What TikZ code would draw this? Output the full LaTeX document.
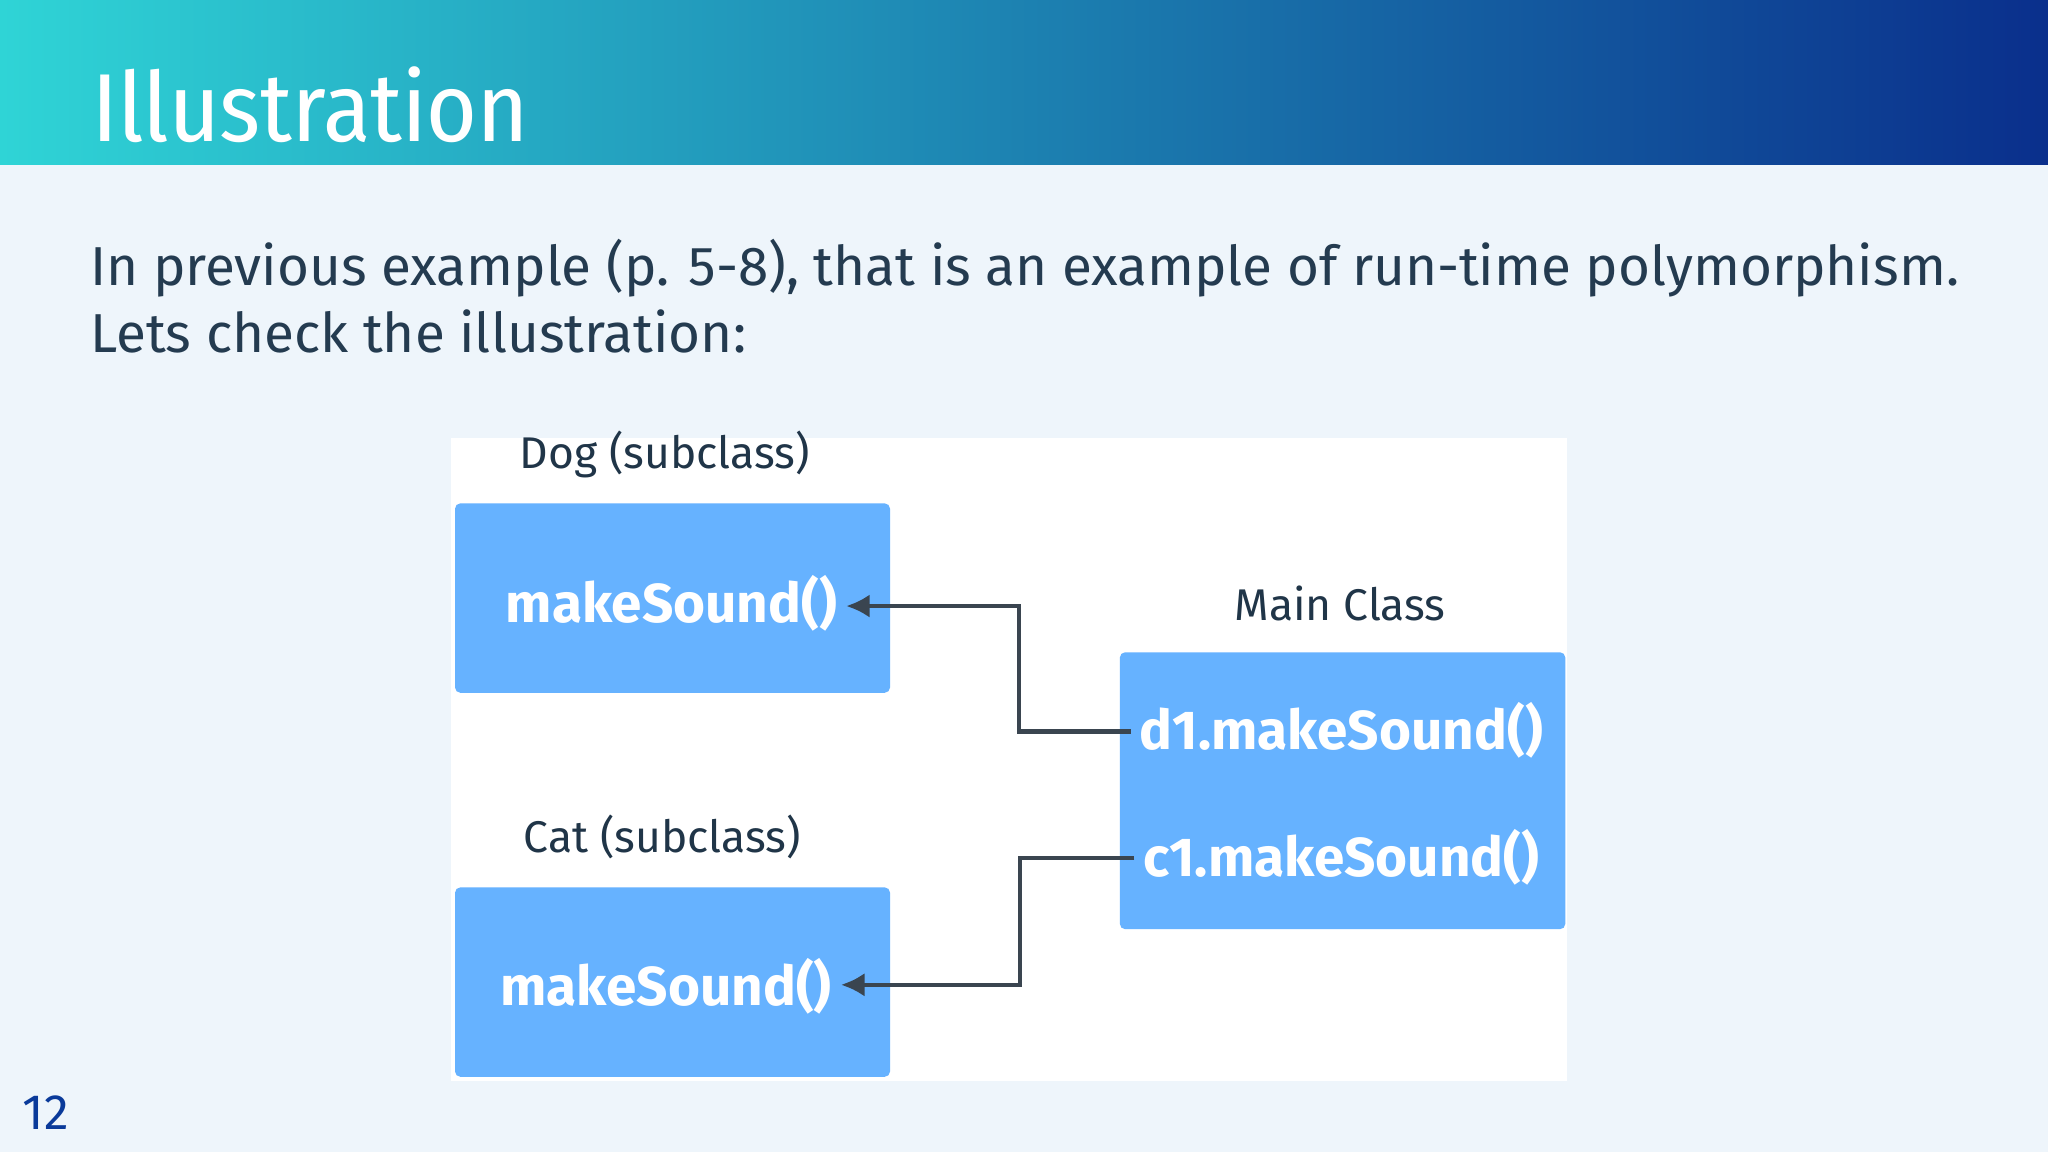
\documentclass[tikz,border=0pt]{standalone}
\usepackage{fontspec}
\setmainfont{Fira Sans}
\newfontfamily\condfont{Fira Sans Condensed}
\definecolor{bg}{HTML}{EEF5FB}
\definecolor{boxc}{HTML}{66B2FF}
\definecolor{txt}{HTML}{243B50}
\definecolor{numc}{HTML}{0A3A9A}
\definecolor{lnc}{HTML}{3A4550}
\usetikzlibrary{arrows.meta}
\tikzset{
  cls/.style={fill=boxc, rounded corners=2pt, draw=none},
  lbl/.style={font=\fontsize{17}{20}\selectfont, text=txt!90!black},
  mtxt/.style={font=\fontsize{21}{24}\selectfont\bfseries, text=white},
  conn/.style={draw=lnc, line width=1.6pt, -{Latex[length=9pt,width=9pt]}}
}
\begin{document}
\begin{tikzpicture}[x=0.5pt,y=-0.5pt]
\useasboundingbox (0,0) rectangle (1568,882);
\fill[bg] (0,0) rectangle (1568,882);
\shade[left color={rgb,255:red,47;green,212;blue,214}, right color={rgb,255:red,10;green,47;blue,140}] (0,0) rectangle (1568,126);
\node[anchor=west, text=white, font=\condfont\fontsize{37}{42}\selectfont] (title) at (64,80) {Illustration};
\node[anchor=north west, align=left, text=txt, font=\fontsize{21}{25.5}\selectfont] (body) at (62,176)
 {In previous example (p. 5-8), that is an example of run-time polymorphism.\\Lets check the illustration:};
\fill[white] (345,335) rectangle (1200,828);
\node[cls, minimum width=166.5pt, minimum height=72.5pt, anchor=north west] (dog) at (348,385) {};
\node[cls, minimum width=166.5pt, minimum height=72.5pt, anchor=north west] (cat) at (348,679) {};
\node[cls, minimum width=170.5pt, minimum height=106pt, anchor=north west] (main) at (857,499) {};
\node[lbl] (dogl) at (509,348) {Dog (subclass)};
\node[lbl] (catl) at (507,641) {Cat (subclass)};
\node[lbl] (mainl) at (1026,462) {Main Class};
\node[mtxt] (dm) at (514,462) {makeSound()};
\node[mtxt] (cm) at (510,755) {makeSound()};
\node[mtxt] (d1) at (1027,559) {d1.makeSound()};
\node[mtxt] (c1) at (1027,656) {c1.makeSound()};
\coordinate (a1) at (780,560);
\coordinate (a2) at (780,464);
\coordinate (b1) at (781,657);
\coordinate (b2) at (781,754);
\draw[conn] (d1.west |- a1) -- (a1) -- (a2) -- (a2 -| dm.east);
\draw[conn] (c1.west |- b1) -- (b1) -- (b2) -- (b2 -| cm.east);
\node[text=numc, font=\fontsize{19}{22}\selectfont] (pg) at (35,852) {12};
\end{tikzpicture}
\end{document}
